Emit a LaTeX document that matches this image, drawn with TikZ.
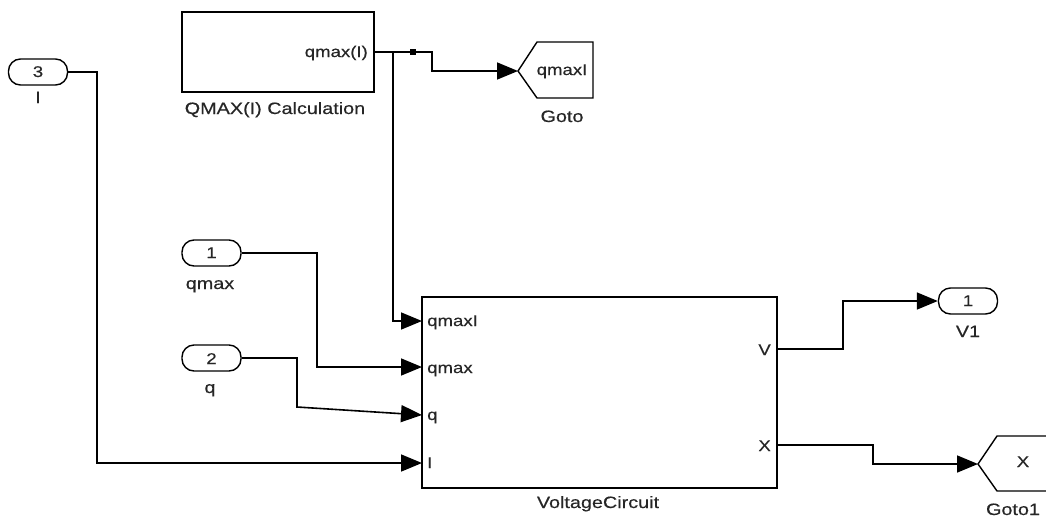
\documentclass[tikz,border=0pt]{standalone}
\usepackage{fontspec}
\setmainfont{Liberation Sans}[FakeStretch=1.2,FakeBold=0.4]
\usetikzlibrary{arrows.meta}
\begin{document}
\begin{tikzpicture}[x=1pt,y=-1pt,
  wire/.style={line width=1.6pt,-{Triangle[length=21pt,width=17pt]}},
  pill/.style={draw,line width=1.4pt,rounded corners=12pt,minimum width=59pt,minimum height=26pt,inner sep=0pt},
  blk/.style={draw,line width=1.5pt,inner sep=0pt},
  txt/.style={inner sep=0pt,text=black!85,font=\fontsize{16.5}{19}\selectfont},
  ptxt/.style={inner sep=0pt,text=black!85,font=\fontsize{15.5}{18}\selectfont}]
\path[use as bounding box] (0,0) rectangle (1046,517);
\clip (0,0) rectangle (1046,517);

% QMAX block
\node[blk,minimum width=192pt,minimum height=80pt] (qcalc) at (278,52) {};
\node[ptxt,anchor=base east] (qcalcout) at (368,57) {qmax(I)};
\node[txt,anchor=base] (qcalcl) at (275,114) {QMAX(I) Calculation};

% Goto
\coordinate (gotoin) at (518,71);
\draw[line width=1.4pt] (gotoin) -- (537,42) -- (593,42) -- (593,98) -- (537,98) -- cycle;
\node[ptxt,anchor=base] (gototxt) at (562,75) {qmaxI};
\node[txt,anchor=base] (gotol) at (562,122) {Goto};

% Inports
\node[pill] (in3) at (38,72) {};
\node[ptxt,anchor=base] (in3n) at (38,77) {3};
\node[txt,anchor=base] (in3l) at (38,103) {I};
\node[pill] (in1) at (211.5,253) {};
\node[ptxt,anchor=base] (in1n) at (211.5,258) {1};
\node[txt,anchor=base] (in1l) at (210,289) {qmax};
\node[pill] (in2) at (211.5,358) {};
\node[ptxt,anchor=base] (in2n) at (211.5,364) {2};
\node[txt,anchor=base] (in2l) at (210,393) {q};

% VoltageCircuit
\node[blk,minimum width=355pt,minimum height=191pt] (vc) at (599.5,392.5) {};
\node[txt,anchor=base] (vcl) at (598,508) {VoltageCircuit};
\coordinate (vcA) at (422,321);
\coordinate (vcB) at (422,367);
\coordinate (vcC) at (422,415);
\coordinate (vcD) at (422,463);
\coordinate (vcV) at (777,349);
\coordinate (vcX) at (777,445);
\node[ptxt,anchor=base west] (pA) at (427,326) {qmaxI};
\node[ptxt,anchor=base west] (pB) at (427,373) {qmax};
\node[ptxt,anchor=base west] (pC) at (427,420) {q};
\node[ptxt,anchor=base west] (pD) at (427,468) {I};
\node[ptxt,anchor=base east] (pV) at (771,355) {V};
\node[ptxt,anchor=base east] (pX) at (771,451) {X};

% Outport
\node[pill] (out1) at (968,301) {};
\node[ptxt,anchor=base] (out1n) at (968,306) {1};
\node[txt,anchor=base] (out1l) at (968,337) {V1};

% Goto1
\coordinate (goto1in) at (978,464);
\draw[line width=1.4pt] (1070,436) -- (997,436) -- (goto1in) -- (997,491) -- (1070,491);
\node[ptxt,anchor=base] (goto1txt) at (1023,467) {X};
\node[txt,anchor=base] (goto1l) at (1013,515) {Goto1};

% Wires
\coordinate (br) at (393,52);
\draw[wire] (qcalc.east) -- (432,52) -- (432,71) -- (gotoin);
\draw[wire] (br) -- (393,321) -- (vcA);
\node[fill,minimum size=6.5pt,inner sep=0pt] (dot) at (413,52) {};
\draw[wire] (in1.east) -- (317,253) -- (317,367) -- (vcB);
\draw[wire] (in2.east) -- (297,358) -- (297,407) -- (vcC);
\draw[wire] (in3.east) -- (97,72) -- (97,463) -- (vcD);
\draw[wire] (vcV) -- (843,349) -- (843,301) -- (out1.west);
\draw[wire] (vcX) -- (873,445) -- (873,464) -- (goto1in);
\end{tikzpicture}
\end{document}
